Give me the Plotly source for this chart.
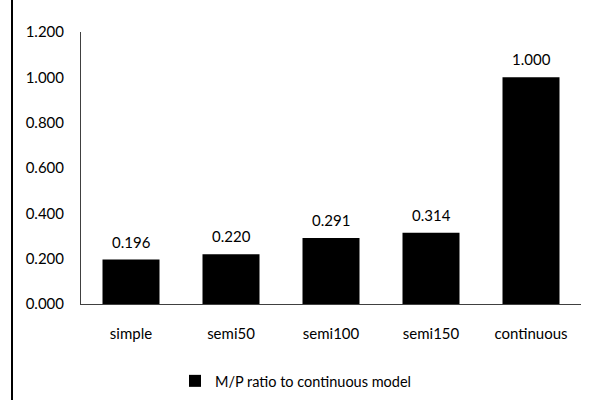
import plotly.graph_objects as go

categories = ["simple", "semi50", "semi100", "semi150", "continuous"]
values = [0.196, 0.220, 0.291, 0.314, 1.000]
series_name = "M/P ratio to continuous model"

FONT = "Lato, 'Noto Sans', sans-serif"

fig = go.Figure()
fig.add_trace(go.Bar(
    x=categories, y=values, name=series_name,
    marker=dict(color="#000000", line=dict(width=0)),
    showlegend=True,
))

for c, v in zip(categories, values):
    fig.add_annotation(
        x=c, y=v, text=f"{v:.3f}", showarrow=False,
        yanchor="bottom", yshift=7,
        font=dict(family=FONT, size=15, color="#000000"),
    )

fig.update_layout(
    width=590, height=400,
    margin=dict(l=81, r=9, t=32, b=96, autoexpand=False),
    paper_bgcolor="white", plot_bgcolor="white",
    bargap=0.43,
    font=dict(family=FONT, size=15, color="#000000"),
    xaxis=dict(
        showline=True, linecolor="#404040", linewidth=1,
        showgrid=False, ticks="", ticklabelstandoff=16,
        tickfont=dict(family=FONT, size=15),
    ),
    yaxis=dict(
        range=[0, 1.2], dtick=0.2, tickformat=".3f",
        showline=True, linecolor="#404040", linewidth=1,
        showgrid=False, zeroline=False, ticks="", ticklabelstandoff=13,
        tickfont=dict(family=FONT, size=15),
    ),
    legend=dict(
        orientation="h", x=0.43, xanchor="center", y=-0.224, yanchor="top",
        font=dict(family=FONT, size=14.5), itemwidth=30,
    ),
    shapes=[dict(type="line", xref="paper", yref="paper",
                 x0=-0.138, x1=-0.138, y0=-0.4, y1=1.2,
                 line=dict(color="black", width=2))],
)

fig.write_html("out.html")
